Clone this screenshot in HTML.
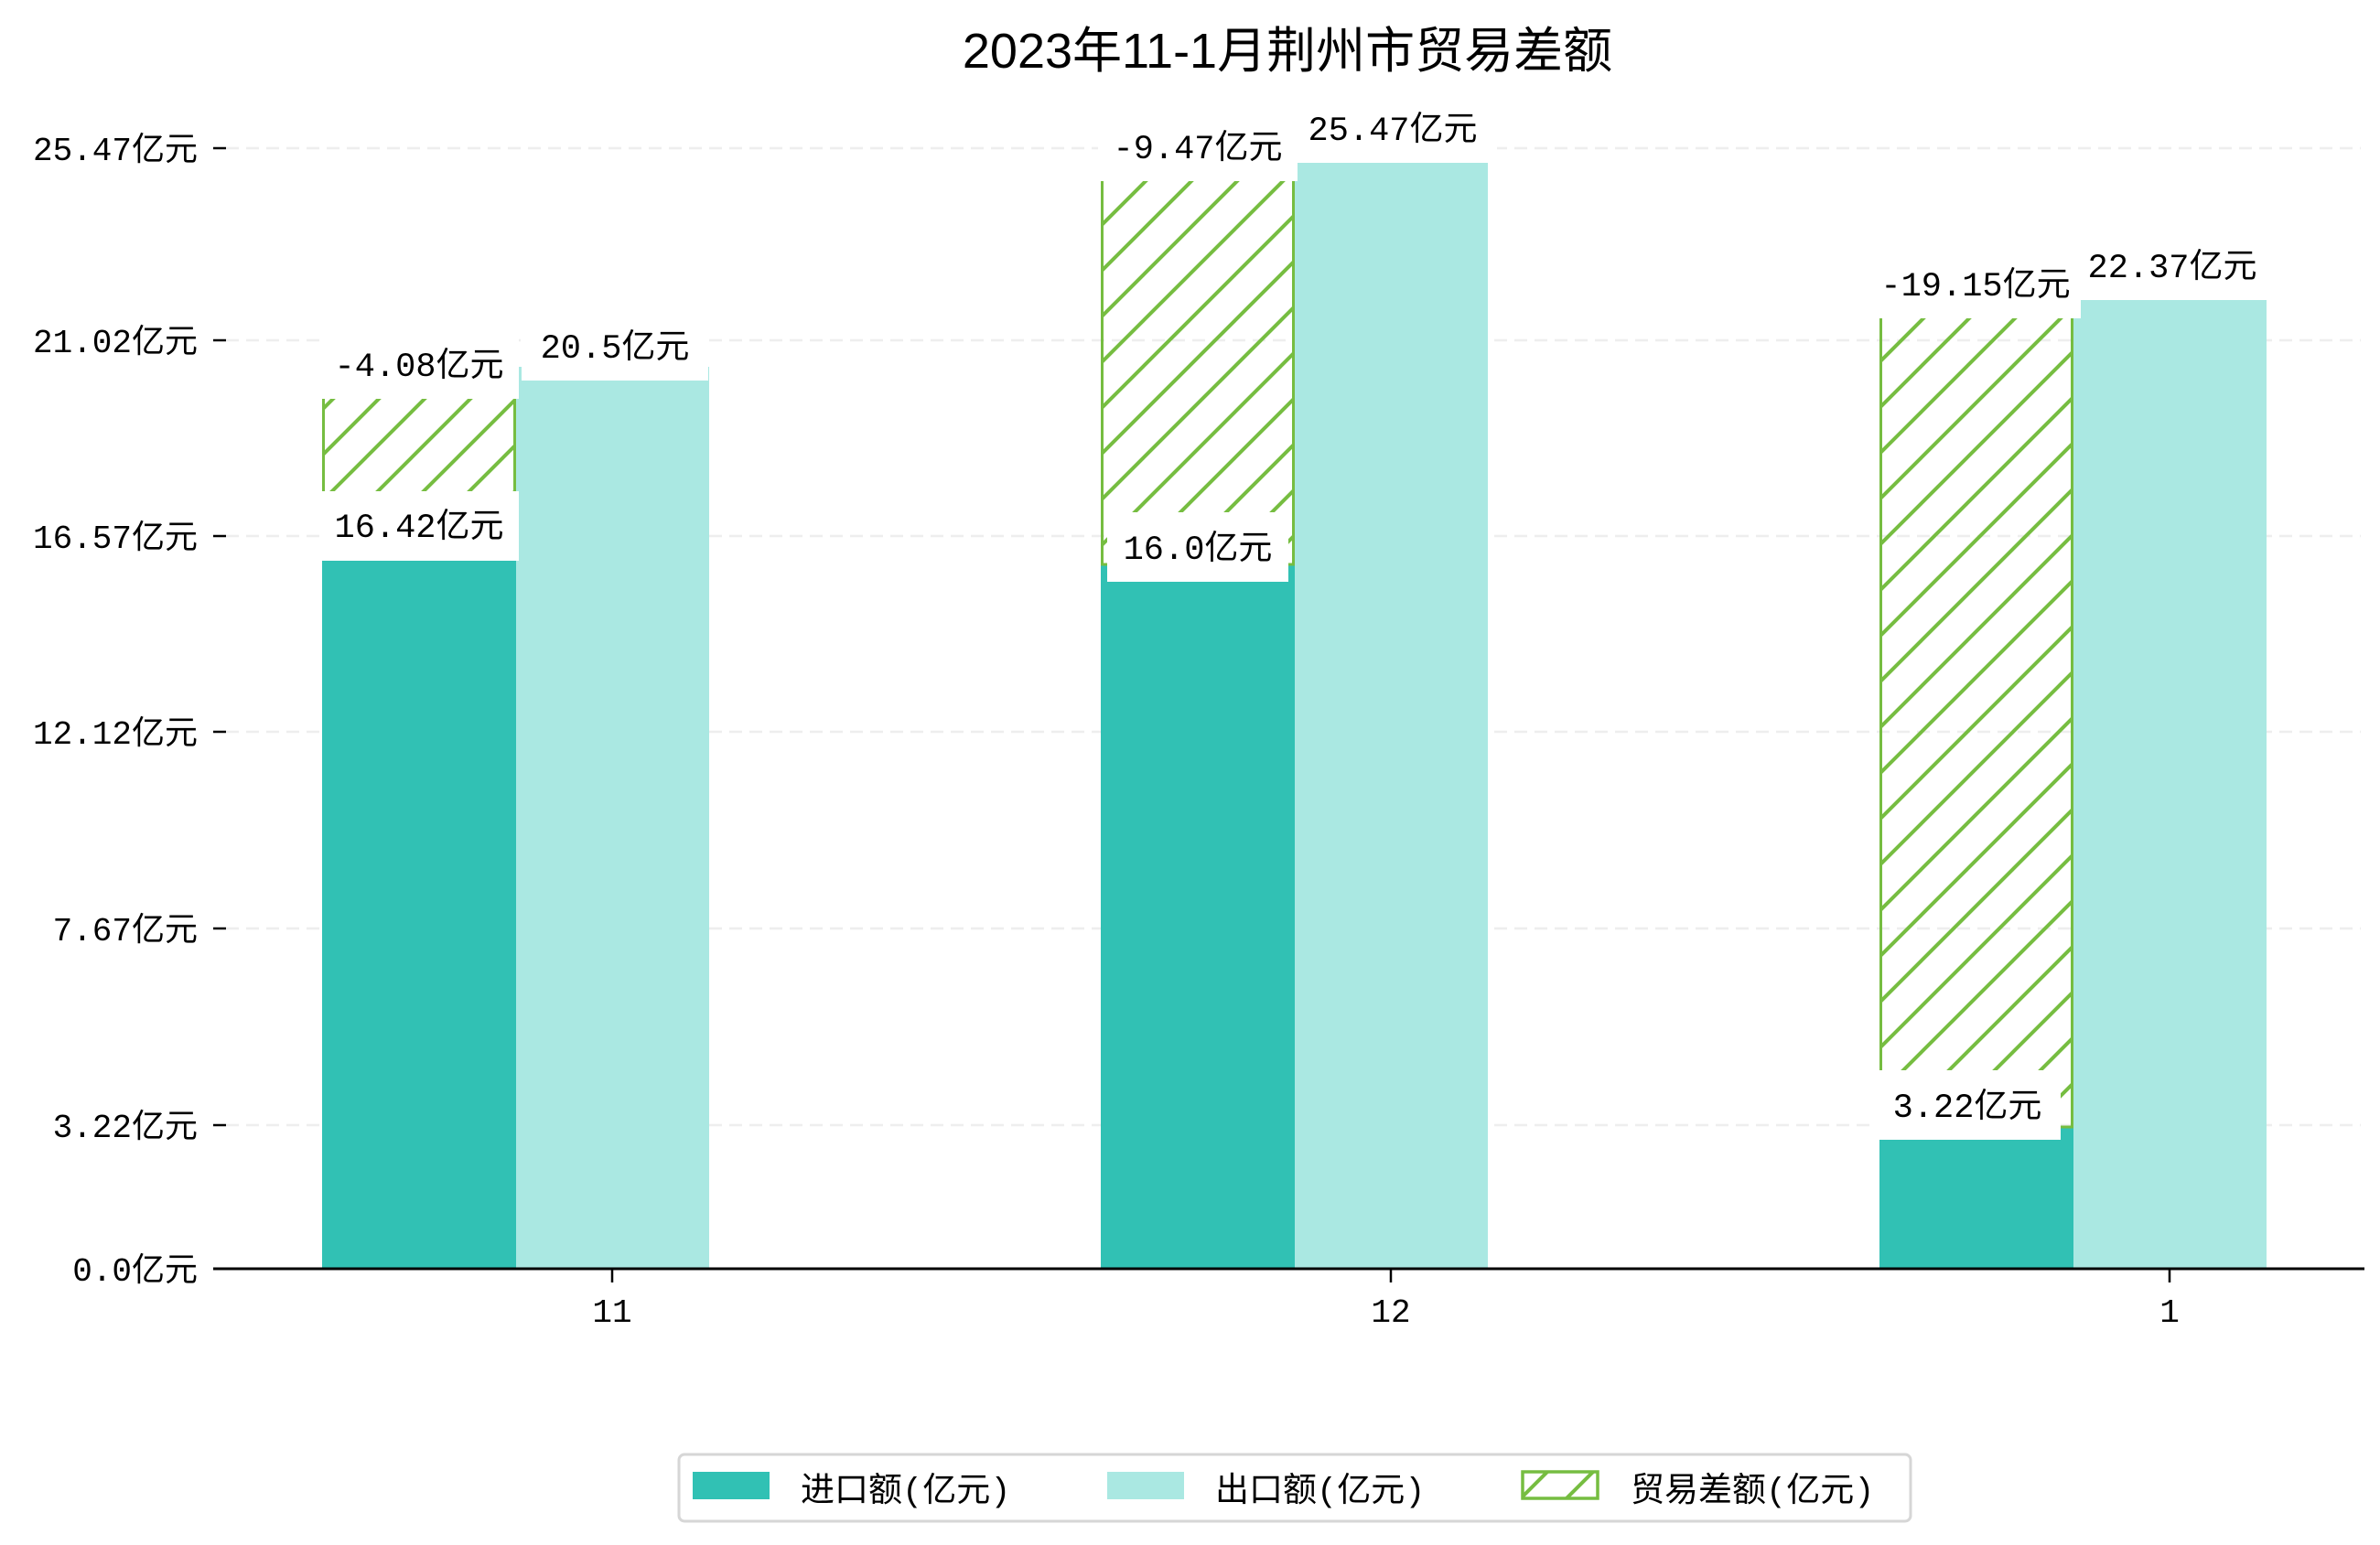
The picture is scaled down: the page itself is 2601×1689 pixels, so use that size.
<!DOCTYPE html>
<html><head><meta charset="utf-8"><style>
html,body{margin:0;padding:0;background:#fff;}
svg{display:block;}
text{font-family:"Liberation Mono","Noto Sans CJK SC",monospace;fill:#000;}
</style></head><body>
<svg width="2601" height="1689" viewBox="0 0 2601 1689" xmlns="http://www.w3.org/2000/svg">
<defs>
<pattern id="h" patternUnits="userSpaceOnUse" width="50" height="50">
<line x1="-5" y1="55" x2="55" y2="-5" stroke="#76BD41" stroke-width="4"/>
<line x1="-30" y1="30" x2="30" y2="-30" stroke="#76BD41" stroke-width="4"/>
<line x1="20" y1="80" x2="80" y2="20" stroke="#76BD41" stroke-width="4"/>
</pattern>
</defs>
<text x="1407" y="74" font-size="54" text-anchor="middle" style="font-family:'Liberation Sans','Noto Sans CJK SC',sans-serif">2023年11-1月荆州市贸易差额</text>
<!-- grid -->
<g stroke="#eeeeee" stroke-width="2.5" stroke-dasharray="14,8">
<line x1="247" y1="162" x2="2580" y2="162"/>
<line x1="247" y1="372" x2="2580" y2="372"/>
<line x1="247" y1="586" x2="2580" y2="586"/>
<line x1="247" y1="800" x2="2580" y2="800"/>
<line x1="247" y1="1015" x2="2580" y2="1015"/>
<line x1="247" y1="1230" x2="2580" y2="1230"/>
</g>
<!-- y ticks -->
<g stroke="#000" stroke-width="2.5">
<line x1="233" y1="162" x2="247" y2="162"/>
<line x1="233" y1="372" x2="247" y2="372"/>
<line x1="233" y1="586" x2="247" y2="586"/>
<line x1="233" y1="800" x2="247" y2="800"/>
<line x1="233" y1="1015" x2="247" y2="1015"/>
<line x1="233" y1="1230" x2="247" y2="1230"/>
</g>
<g font-size="36" text-anchor="end">
<text x="216" y="175">25.47亿元</text>
<text x="216" y="385">21.02亿元</text>
<text x="216" y="599">16.57亿元</text>
<text x="216" y="813">12.12亿元</text>
<text x="216" y="1028">7.67亿元</text>
<text x="216" y="1243">3.22亿元</text>
<text x="216" y="1400">0.0亿元</text>
</g>
<!-- bars -->
<rect x="352" y="597" width="212" height="790" fill="#31C1B4"/>
<rect x="564" y="401" width="211" height="986" fill="#AAE8E2"/>
<rect x="1203" y="617" width="212" height="770" fill="#31C1B4"/>
<rect x="1415" y="162" width="211" height="1225" fill="#AAE8E2"/>
<rect x="2054" y="1232" width="212" height="155" fill="#31C1B4"/>
<rect x="2266" y="311" width="211" height="1076" fill="#AAE8E2"/>
<!-- hatch -->
<rect x="353.5" y="401" width="209" height="196" fill="url(#h)" stroke="#76BD41" stroke-width="3"/>
<rect x="1204.5" y="162" width="209" height="455" fill="url(#h)" stroke="#76BD41" stroke-width="3"/>
<rect x="2055.5" y="311" width="209" height="921" fill="url(#h)" stroke="#76BD41" stroke-width="3"/>
<!-- label boxes -->
<g fill="#fff">
<rect x="349" y="360" width="218" height="76"/>
<rect x="349" y="537" width="218" height="76"/>
<rect x="570" y="340" width="204" height="76"/>
<rect x="1200" y="122" width="218" height="76"/>
<rect x="1210" y="560" width="198" height="76"/>
<rect x="1418" y="102" width="218" height="76"/>
<rect x="2044" y="272" width="230" height="76"/>
<rect x="2047" y="1170" width="205" height="76"/>
<rect x="2266" y="252" width="216" height="76"/>
</g>
<g font-size="37" text-anchor="middle">
<text x="458" y="411">-4.08亿元</text>
<text x="458" y="587">16.42亿元</text>
<text x="672" y="391">20.5亿元</text>
<text x="1309" y="173">-9.47亿元</text>
<text x="1309" y="611">16.0亿元</text>
<text x="1522" y="153">25.47亿元</text>
<text x="2159" y="323">-19.15亿元</text>
<text x="2150" y="1221">3.22亿元</text>
<text x="2374" y="303">22.37亿元</text>
</g>
<!-- x axis -->
<line x1="233" y1="1387" x2="2584" y2="1387" stroke="#000" stroke-width="3"/>
<g stroke="#000" stroke-width="2.5">
<line x1="669" y1="1387" x2="669" y2="1402"/>
<line x1="1520" y1="1387" x2="1520" y2="1402"/>
<line x1="2371" y1="1387" x2="2371" y2="1402"/>
</g>
<g font-size="36" text-anchor="middle">
<text x="669" y="1445">11</text>
<text x="1520" y="1445">12</text>
<text x="2371" y="1445">1</text>
</g>
<!-- legend -->
<rect x="742" y="1590" width="1346" height="73" rx="6" fill="#fff" stroke="#d6d6d6" stroke-width="3"/>
<rect x="757" y="1609" width="84" height="30" fill="#31C1B4"/>
<rect x="1210" y="1609" width="84" height="30" fill="#AAE8E2"/>
<rect x="1664" y="1609" width="82" height="29" fill="url(#h)" stroke="#76BD41" stroke-width="3.5"/>
<g font-size="37">
<text x="875" y="1641">进口额(亿元)</text>
<text x="1328" y="1641">出口额(亿元)</text>
<text x="1782" y="1641">贸易差额(亿元)</text>
</g>
</svg>
</body></html>
